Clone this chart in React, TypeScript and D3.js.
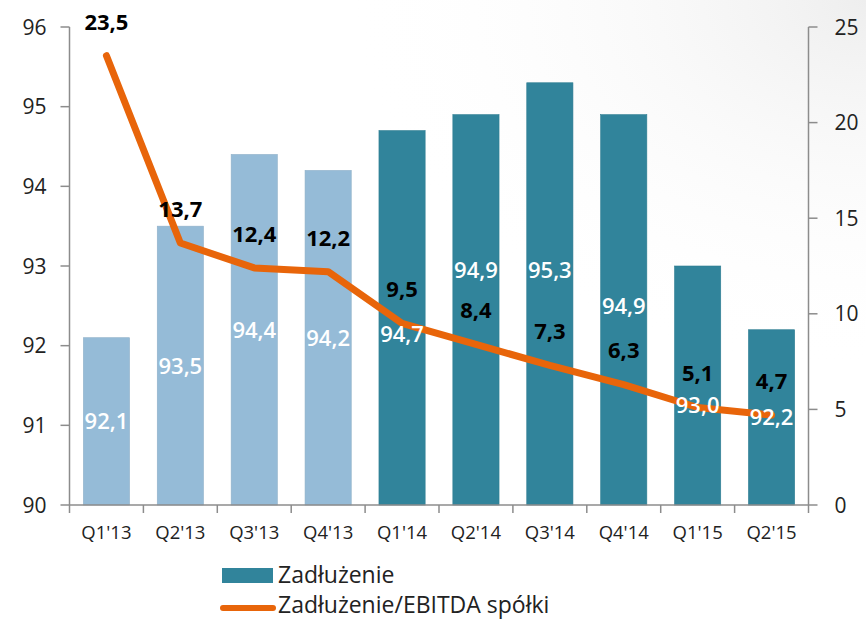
import React from "react";
import * as d3 from "d3";

const categories = ["Q1'13", "Q2'13", "Q3'13", "Q4'13", "Q1'14", "Q2'14", "Q3'14", "Q4'14", "Q1'15", "Q2'15"];
const debt = [92.1, 93.5, 94.4, 94.2, 94.7, 94.9, 95.3, 94.9, 93.0, 92.2];
const ratio = [23.5, 13.7, 12.4, 12.2, 9.5, 8.4, 7.3, 6.3, 5.1, 4.7];
// where the white bar labels sit, in left-axis units
const debtLabelAt = [91.05, 91.75, 92.2, 92.1, 92.15, 92.95, 92.95, 92.5, 91.25, 91.1];
const leftTicks = [90, 91, 92, 93, 94, 95, 96];
const rightTicks = [0, 5, 10, 15, 20, 25];
const lightYears = ["Q1'13", "Q2'13", "Q3'13", "Q4'13"];

const W = 866;
const H = 619;
const L = 69.5;
const R = 808.5;
const T = 27;
const B = 505;
const FONT = "'Open Sans', 'DejaVu Sans', sans-serif";
const TEAL = "#31849B";
const LIGHT = "#95BBD7";
const ORANGE = "#E8650A";
const AXIS = "#8C8C8C";

const fmt = (v: number) => v.toFixed(1).replace(".", ",");

export default function App() {
  const x = d3.scaleBand<string>().domain(categories).range([L, R]).paddingInner(0.375).paddingOuter(0.1875);
  const xb = d3.scaleBand<string>().domain(categories).range([L, R]);
  const yL = d3.scaleLinear().domain([90, 96]).range([B, T]);
  const yR = d3.scaleLinear().domain([0, 25]).range([B, T]);
  const cx = (c: string) => (xb(c) as number) + xb.bandwidth() / 2;
  const line = d3
    .line<number>()
    .x((_, i) => cx(categories[i]))
    .y((d) => yR(d));

  return (
    <svg width={W} height={H} style={{ position: "absolute", left: 0, top: 0, background: "#fff" }}>
      <defs>
        <radialGradient id="bgTop" cx="1" cy="0" r="0.6">
          <stop offset="0" stopColor="#eeeeee" stopOpacity={1} />
          <stop offset="1" stopColor="#ffffff" stopOpacity={0} />
        </radialGradient>
      </defs>
      <rect x={0} y={0} width={W} height={H} fill="#fff" />
      <rect x={0} y={0} width={W} height={H} fill="url(#bgTop)" />
      {categories.map((c, i) => (
        <rect
          key={c}
          x={x(c)}
          y={yL(debt[i])}
          width={x.bandwidth()}
          height={B - yL(debt[i])}
          fill={lightYears.includes(c) ? LIGHT : TEAL}
          stroke={lightYears.includes(c) ? "#8FB0C8" : "#2E7D92"}
          strokeWidth={0.6}
        />
      ))}
      {/* left axis */}
      <line x1={L} x2={L} y1={T} y2={B} stroke={AXIS} strokeWidth={1.5} />
      {leftTicks.map((t) => (
        <g key={t}>
          <line x1={L - 9} x2={L} y1={yL(t)} y2={yL(t)} stroke={AXIS} strokeWidth={1.5} />
          <text x={L - 23} y={yL(t)} dy="0.36em" textAnchor="end" fontFamily={FONT} fontSize={21} fill="#222">
            {t}
          </text>
        </g>
      ))}
      {/* right axis */}
      <line x1={R} x2={R} y1={T} y2={B} stroke={AXIS} strokeWidth={1.5} />
      {rightTicks.map((t) => (
        <g key={t}>
          <line x1={R} x2={R + 9} y1={yR(t)} y2={yR(t)} stroke={AXIS} strokeWidth={1.5} />
          <text x={R + 26} y={yR(t)} dy="0.36em" textAnchor="start" fontFamily={FONT} fontSize={21} fill="#222">
            {t}
          </text>
        </g>
      ))}
      {/* bottom axis */}
      <line x1={L} x2={R} y1={B} y2={B} stroke={AXIS} strokeWidth={1.5} />
      {categories.map((c) => (
        <line key={c} x1={xb(c)} x2={xb(c)} y1={B} y2={B + 8} stroke={AXIS} strokeWidth={1.5} />
      ))}
      <line x1={R} x2={R} y1={B} y2={B + 8} stroke={AXIS} strokeWidth={1.5} />
      {categories.map((c) => (
        <text key={c} x={cx(c)} y={B + 27} dy="0.36em" textAnchor="middle" fontFamily={FONT} fontSize={18.5} fill="#222">
          {c}
        </text>
      ))}
      {/* line */}
      <path d={line(ratio) as string} fill="none" stroke={ORANGE} strokeWidth={7} strokeLinejoin="round" strokeLinecap="round" />
      {/* bar labels */}
      {categories.map((c, i) => (
        <text
          key={c}
          x={(x(c) as number) + x.bandwidth() / 2}
          y={yL(debtLabelAt[i])}
          dy="0.36em"
          textAnchor="middle"
          fontFamily={FONT}
          fontSize={22}
          fontWeight={600}
          fill="#fff"
        >
          {fmt(debt[i])}
        </text>
      ))}
      {/* line labels */}
      {categories.map((c, i) => (
        <text
          key={c}
          x={cx(c)}
          y={yR(ratio[i]) - 34}
          dy="0.36em"
          textAnchor="middle"
          fontFamily={FONT}
          fontSize={22}
          fontWeight={700}
          fill="#000"
        >
          {fmt(ratio[i])}
        </text>
      ))}
      {/* legend */}
      <rect x={222} y={568} width={51} height={15} fill={TEAL} />
      <text x={278} y={583} fontFamily={FONT} fontSize={23} fill="#222">
        Zadłużenie
      </text>
      <line x1={223} x2={273} y1={608} y2={608} stroke={ORANGE} strokeWidth={6} strokeLinecap="round" />
      <text x={278} y={613} fontFamily={FONT} fontSize={23} fill="#222">
        Zadłużenie/EBITDA spółki
      </text>
    </svg>
  );
}
